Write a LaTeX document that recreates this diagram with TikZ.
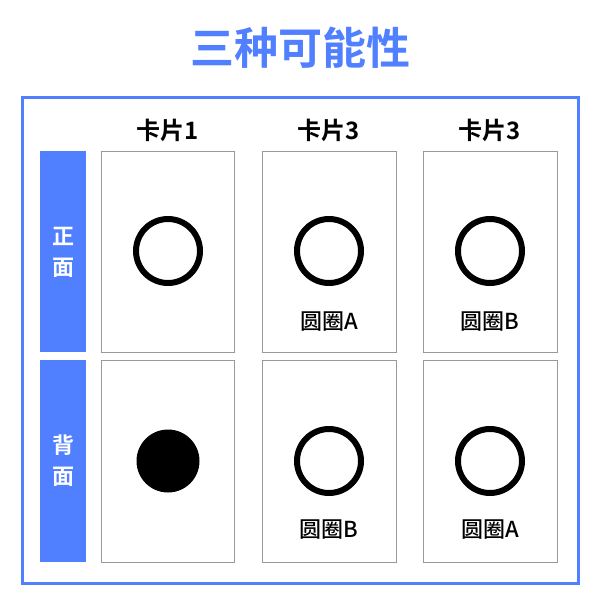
\documentclass[tikz,border=0pt]{standalone}
\usepackage{fontspec}
\newfontfamily\cjk{Noto Sans CJK SC}
\newfontfamily\cjkm{Noto Sans CJK SC Medium}
\newfontfamily\cjkb{Noto Sans CJK SC Bold}
\definecolor{mainblue}{HTML}{5080FF}
\definecolor{cardgray}{HTML}{999999}
\begin{document}
\begin{tikzpicture}[x=1pt,y=-1pt,
  card/.style={draw=cardgray,line width=1pt},
  sidebox/.style={fill=mainblue},
  ring/.style={draw=black,line width=6pt},
  dot/.style={fill=black},
  header/.style={font=\cjkb\fontsize{24}{26}\selectfont,text=black},
  lbl/.style={font=\cjkm\fontsize{22}{24}\selectfont,text=black},
  side/.style={font=\cjkb\fontsize{22}{31}\selectfont,text=white,align=center}]
\useasboundingbox (0,0) rectangle (600,600);
\fill[white] (0,0) rectangle (600,600);
\node[font=\cjkb\fontsize{44}{48}\selectfont,text=mainblue] (title) at (300,48) {三种可能性};
\draw[mainblue,line width=3pt] (22,97) rectangle (578,583);
% headers
\node[header] (h1) at (168,130) {卡片1};
\node[header] (h2) at (329,130) {卡片3};
\node[header] (h3) at (490,130) {卡片3};
% side labels
\fill[sidebox] (40,151) rectangle (86,352);
\fill[sidebox] (40,360) rectangle (86,562);
\node[side] (front) at (63,252) {正\\面};
\node[side] (back) at (63,461) {背\\面};
% cards
\draw[card] (101,151) rectangle (234,352);
\draw[card] (262,151) rectangle (396,352);
\draw[card] (423,151) rectangle (557,352);
\draw[card] (101,360) rectangle (234,562);
\draw[card] (262,360) rectangle (396,562);
\draw[card] (423,360) rectangle (557,562);
% circles
\draw[ring] (168,251) circle (32);
\draw[ring] (329,251) circle (32);
\draw[ring] (490,251) circle (32);
\fill[dot] (168,461) circle (31.5);
\draw[ring] (329,461) circle (32);
\draw[ring] (490,461) circle (32);
% labels
\node[lbl] (l1) at (329,322) {圆圈A};
\node[lbl] (l2) at (490,322) {圆圈B};
\node[lbl] (l3) at (329,530) {圆圈B};
\node[lbl] (l4) at (490,530) {圆圈A};
\end{tikzpicture}
\end{document}
